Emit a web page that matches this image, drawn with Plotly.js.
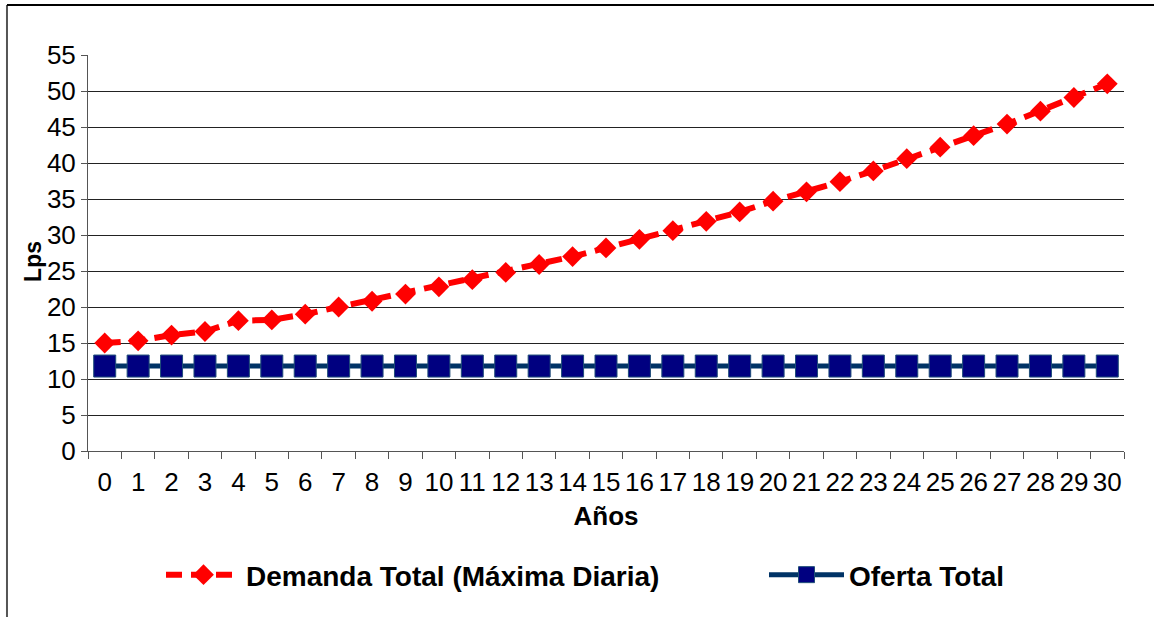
<!DOCTYPE html>
<html>
<head>
<meta charset="utf-8">
<script src="https://cdn.plot.ly/plotly-3.0.1.min.js"></script>
<style>
  html, body { margin: 0; padding: 0; background: #fff; }
  #chart { width: 1154px; height: 617px; }
</style>
</head>
<body>
<div id="chart"></div>
<script>
const years = ["0","1","2","3","4","5","6","7","8","9","10","11","12","13","14","15",
               "16","17","18","19","20","21","22","23","24","25","26","27","28","29","30"];
const demanda = [15.0, 15.3, 16.1, 16.6, 18.1, 18.2, 19.0, 20.0, 20.8, 21.8, 22.8, 23.8,
                 24.8, 25.9, 27.0, 28.2, 29.4, 30.6, 31.9, 33.2, 34.7, 36.0, 37.4, 38.9,
                 40.6, 42.2, 43.8, 45.4, 47.2, 49.1, 51.0];
const oferta = [11.8, 11.8, 11.8, 11.8, 11.8, 11.8, 11.8, 11.8, 11.8, 11.8, 11.8, 11.8,
                11.8, 11.8, 11.8, 11.8, 11.8, 11.8, 11.8, 11.8, 11.8, 11.8, 11.8, 11.8,
                11.8, 11.8, 11.8, 11.8, 11.8, 11.8, 11.8];
const yTicks = [0, 5, 10, 15, 20, 25, 30, 35, 40, 45, 50, 55];
const seriesNames = ["Demanda Total (Máxima Diaria)", "Oferta Total"];

const FONT = "Liberation Sans, Arial, sans-serif";

const traces = [
  {
    x: years, y: demanda, name: seriesNames[0], type: "scatter", mode: "lines+markers",
    line: { color: "#FF0000", width: 6, dash: "16px,9px" },
    marker: { symbol: "diamond", size: 16, color: "#FF0000" },
    legend: "legend",
    hoverinfo: "skip"
  },
  {
    x: years, y: oferta, name: seriesNames[1], type: "scatter", mode: "lines+markers",
    line: { color: "#003366", width: 5 },
    marker: { symbol: "square", size: 22, color: "#000080", line: { color: "#1F4E79", width: 1 } },
    legend: "legend2",
    hoverinfo: "skip"
  }
];

const legendFont = { family: FONT, size: 28, color: "#000", weight: "bold" };

const layout = {
  width: 1154, height: 617,
  margin: { l: 88, r: 30, t: 55, b: 166 },
  paper_bgcolor: "#ffffff", plot_bgcolor: "#ffffff",
  font: { family: FONT, size: 26, color: "#000" },
  showlegend: true,
  xaxis: {
    type: "category",
    range: [-0.5, 30.5],
    tickmode: "array", tickvals: years, ticktext: years,
    tickson: "boundaries",
    ticks: "outside", ticklen: 7, tickcolor: "#555", tickwidth: 1,
    ticklabelstandoff: 8,
    showline: true, linecolor: "#555", linewidth: 1,
    showgrid: false, zeroline: false,
    tickangle: 0,
    tickfont: { family: FONT, size: 26, color: "#000" },
    title: { text: "<b>Años</b>", font: { family: FONT, size: 26, color: "#000" }, standoff: 10 },
    fixedrange: true
  },
  yaxis: {
    range: [0, 55],
    tickvals: yTicks,
    ticks: "outside", ticklen: 6, tickcolor: "#555", tickwidth: 1,
    showline: true, linecolor: "#555", linewidth: 1,
    showgrid: true, gridcolor: "#222", gridwidth: 1,
    zeroline: false,
    tickfont: { family: FONT, size: 26, color: "#000" },
    fixedrange: true
  },
  legend: {
    orientation: "h",
    x: (161 - 88) / 1036, xanchor: "left",
    y: -0.313, yanchor: "middle",
    font: legendFont,
    itemwidth: 75,
    bgcolor: "rgba(0,0,0,0)"
  },
  legend2: {
    orientation: "h",
    x: (764 - 88) / 1036, xanchor: "left",
    y: -0.313, yanchor: "middle",
    font: legendFont,
    itemwidth: 75,
    bgcolor: "rgba(0,0,0,0)"
  },
  annotations: [
    {
      text: "<b>Lps</b>", xref: "paper", yref: "paper",
      x: -0.0531, y: 0.48, textangle: -90, showarrow: false,
      font: { family: FONT, size: 23, color: "#000" },
      xanchor: "center", yanchor: "middle"
    }
  ],
  shapes: [
    { type: "line", xref: "paper", yref: "paper", x0: -0.0782, x1: -0.0782, y0: -0.42, y1: 1.1263,
      line: { color: "#555", width: 2 } },
    { type: "line", xref: "paper", yref: "paper", x0: -0.0782, x1: 1.03, y0: 1.1263, y1: 1.1263,
      line: { color: "#000", width: 2 } }
  ]
};

Plotly.newPlot("chart", traces, layout, { staticPlot: true, displayModeBar: false });
</script>
</body>
</html>
